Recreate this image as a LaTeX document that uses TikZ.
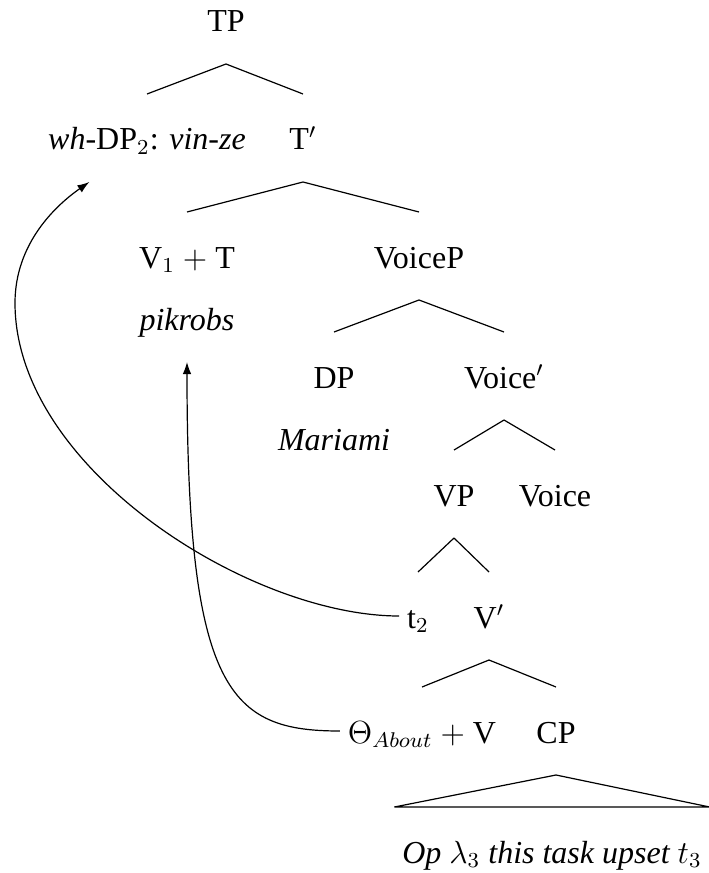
\documentclass[tikz,border=0pt]{standalone}
\usepackage{fontspec}
\setmainfont{Liberation Serif}
\usepackage{amsmath}
\usetikzlibrary{arrows.meta,calc}
\tikzset{
  tn/.style={font=\fontsize{12}{14}\selectfont, anchor=base, text height=9pt,
             text depth=0pt, inner ysep=0pt, inner xsep=3pt,
             outer ysep=12pt, outer xsep=0pt},
  gl/.style={tn, font=\fontsize{12}{14}\selectfont\itshape},
  br/.style={draw=black, line width=0.45pt},
  mv/.style={-{Latex[length=4.5pt,width=3.2pt]}, draw=black, line width=0.45pt},
}

\begin{document}
\begin{tikzpicture}[x=0.375pt, y=-0.375pt]
  \useasboundingbox (0,0) rectangle (708,873);
  % tree
  \node[tn] (tp) at (226,32) {TP};
  \node[tn] (wh) at (147,150) {\textit{wh}-DP$_2$: \textit{vin-ze}};
  \node[tn] (tbar) at (303,150) {T$'$};
  \node[tn] (vt) at (187,268) {V$_1$ $+$ T};
  \node[gl] (pik) at (187,330) {pikrobs};
  \node[tn] (voicep) at (419,268) {VoiceP};
  \node[tn] (dp) at (334,388) {DP};
  \node[gl] (mar) at (334,450) {Mariami};
  \node[tn] (voicebar) at (504,388) {Voice$'$};
  \node[tn] (vp) at (454,506) {VP};
  \node[tn] (voice) at (555,506) {Voice};
  \node[tn] (t2) at (418,628) {t$_2$};
  \node[tn] (vbar) at (489,628) {V$'$};
  \node[tn] (thv) at (422,743) {$\Theta_{About}$ $+$ V};
  \node[tn] (cp) at (556,743) {CP};
  \node[gl] (op) at (552,863) {Op $\lambda_3$ this task upset $t_3$};
  \draw[br] (tp.south) -- (wh.north);
  \draw[br] (tp.south) -- (tbar.north);
  \draw[br] (tbar.south) -- (vt.north);
  \draw[br] (tbar.south) -- (voicep.north);
  \draw[br] (voicep.south) -- (dp.north);
  \draw[br] (voicep.south) -- (voicebar.north);
  \draw[br] (voicebar.south) -- (vp.north);
  \draw[br] (voicebar.south) -- (voice.north);
  \draw[br] (vp.south) -- (t2.north);
  \draw[br] (vp.south) -- (vbar.north);
  \draw[br] (vbar.south) -- (thv.north);
  \draw[br] (vbar.south) -- (cp.north);
  \draw[br] (cp.south) -- (op.north west) -- (op.north east) -- cycle;
  % movement
  \coordinate (whtip) at ($(wh.south west)!0.23!(wh.south east)$);
  \coordinate (bend) at (15,303);
  \draw[mv] (t2.west) .. controls +(-150,0) and +(0,165) .. (bend)
            .. controls +(0,-60) and +(-33,23) .. (whtip);
  \draw[mv] (thv.west) .. controls +(-110,0) and +(0,330) .. (pik.south);
\end{tikzpicture}
\end{document}
